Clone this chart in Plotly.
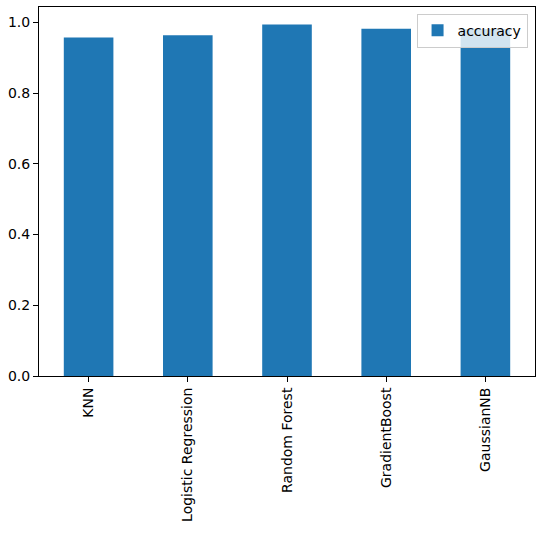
import plotly.graph_objects as go

models = ['KNN', 'Logistic Regression', 'Random Forest', 'GradientBoost', 'GaussianNB']
accuracy = [0.957, 0.963, 0.9935, 0.982, 0.981]

fig = go.Figure()
fig.add_trace(go.Bar(x=models, y=accuracy, name='accuracy', marker_color='#1f77b4',
                     marker_line_width=0, width=0.5, showlegend=True))

axis_style = dict(showline=True, linecolor='black', linewidth=1, mirror=True,
                  ticks='outside', ticklen=5, tickcolor='black', showgrid=False,
                  zeroline=False, automargin=False,
                  tickfont=dict(family='DejaVu Sans', size=14, color='black'))

fig.update_layout(
    width=543, height=537,
    margin=dict(l=39, r=8, t=7, b=161, autoexpand=False),
    plot_bgcolor='white', paper_bgcolor='white',
    bargap=0.5,
    xaxis=dict(tickangle=-90, range=[-0.5, 4.5], **axis_style),
    yaxis=dict(range=[0, 1.0432], tickvals=[0, 0.2, 0.4, 0.6, 0.8, 1.0],
               ticktext=['0.0', '0.2', '0.4', '0.6', '0.8', '1.0'], **axis_style),
    legend=dict(x=0.985, y=0.982, xanchor='right', yanchor='top',
                bgcolor='rgba(255,255,255,0.8)', bordercolor='#cccccc', borderwidth=1,
                font=dict(family='DejaVu Sans', size=14, color='black')),
)

# drop the default 8px body margin so the figure sits at the page corner
fig.write_html('out.html', config={'displayModeBar': False},
               post_script="document.body.style.margin='0';")
